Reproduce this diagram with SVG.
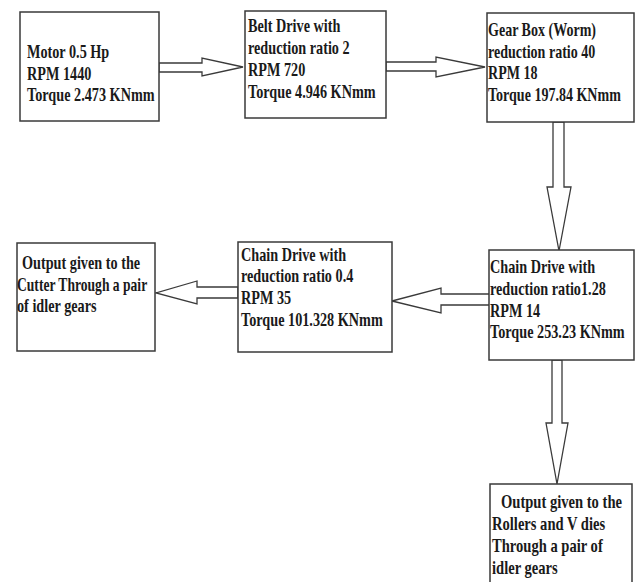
<svg xmlns="http://www.w3.org/2000/svg" width="638" height="582" viewBox="0 0 638 582">
<style>
.box{fill:#ffffff;stroke:#3a3a3a;stroke-width:1.5}
.arr{fill:#ffffff;stroke:#3a3a3a;stroke-width:1.3;stroke-linejoin:miter}
.t{font-family:"Liberation Serif","Times New Roman",serif;font-weight:bold;font-size:18px;fill:#1a1a1a}
</style>
<rect width="638" height="582" fill="#ffffff"/>
<g id="connectors">
<polygon class="arr" points="159,63 202,63 202,58 243,67 202,76 202,72 159,72"/>
<polygon class="arr" points="386,62 436,62 436,57 485,67 436,77 436,71 386,71"/>
<polygon class="arr" points="553,122 553,187 547,187 559,251 571,187 564,187 564,122"/>
<polygon class="arr" points="490,294 441,294 441,288 392,301 441,313 441,305 490,305"/>
<polygon class="arr" points="238,287 197,287 197,281 156,293 197,304 197,298 238,298"/>
<polygon class="arr" points="552,360 552,423 546,423 557,484 568,423 562,423 562,360"/>
</g>
<g id="motor">
<rect class="box" x="20" y="12" width="139" height="109"/>
<text class="t" transform="translate(27,58) scale(0.79,1)">Motor 0.5 Hp</text>
<text class="t" transform="translate(27,79.5) scale(0.79,1)">RPM 1440</text>
<text class="t" transform="translate(27,101) scale(0.79,1)">Torque 2.473 KNmm</text>
</g>
<g id="belt">
<rect class="box" x="245" y="11" width="141" height="107"/>
<text class="t" transform="translate(248,32) scale(0.79,1)">Belt Drive with</text>
<text class="t" transform="translate(248,54) scale(0.79,1)">reduction ratio 2</text>
<text class="t" transform="translate(248,76) scale(0.79,1)">RPM 720</text>
<text class="t" transform="translate(248,97.5) scale(0.79,1)">Torque 4.946 KNmm</text>
</g>
<g id="gearbox">
<rect class="box" x="487" y="13" width="147" height="109"/>
<text class="t" transform="translate(488,36) scale(0.78,1)">Gear Box (Worm)</text>
<text class="t" transform="translate(488,57.5) scale(0.78,1)">reduction ratio 40</text>
<text class="t" transform="translate(488,79) scale(0.78,1)">RPM 18</text>
<text class="t" transform="translate(488,100.5) scale(0.78,1)">Torque 197.84 KNmm</text>
</g>
<g id="chain128">
<rect class="box" x="489" y="250" width="145" height="110"/>
<text class="t" transform="translate(490,273) scale(0.79,1)">Chain Drive with</text>
<text class="t" transform="translate(490,295) scale(0.79,1)">reduction ratio1.28</text>
<text class="t" transform="translate(490,316.5) scale(0.79,1)">RPM 14</text>
<text class="t" transform="translate(490,338) scale(0.79,1)">Torque 253.23 KNmm</text>
</g>
<g id="chain04">
<rect class="box" x="238" y="242" width="154" height="110"/>
<text class="t" transform="translate(241,260.5) scale(0.79,1)">Chain Drive with</text>
<text class="t" transform="translate(241,282) scale(0.79,1)">reduction ratio 0.4</text>
<text class="t" transform="translate(241,304) scale(0.79,1)">RPM 35</text>
<text class="t" transform="translate(241,326) scale(0.79,1)">Torque 101.328 KNmm</text>
</g>
<g id="cutter">
<rect class="box" x="17" y="243" width="138" height="108"/>
<text class="t" transform="translate(22,268.5) scale(0.79,1)">Output given to the</text>
<text class="t" transform="translate(17,290.5) scale(0.755,1)">Cutter Through a pair</text>
<text class="t" transform="translate(17,311.5) scale(0.79,1)">of idler gears</text>
</g>
<g id="rollers">
<rect class="box" x="490" y="484" width="142" height="110"/>
<text class="t" transform="translate(501,508) scale(0.81,1)">Output given to the</text>
<text class="t" transform="translate(492,530) scale(0.81,1)">Rollers and V dies</text>
<text class="t" transform="translate(492,552) scale(0.81,1)">Through a pair of</text>
<text class="t" transform="translate(492,573.5) scale(0.81,1)">idler gears</text>
</g>
</svg>
